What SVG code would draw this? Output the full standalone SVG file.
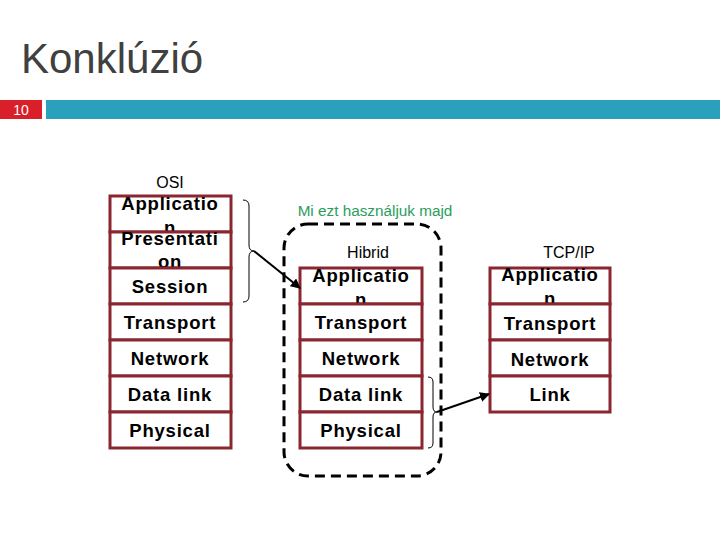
<svg xmlns="http://www.w3.org/2000/svg" width="720" height="540" viewBox="0 0 720 540">
<style>
.box{fill:#fff;stroke:#8a2630;stroke-width:3}
.t{font-family:"Liberation Sans",Arial,sans-serif;font-weight:bold;font-size:18.5px;letter-spacing:0.8px;fill:#000;text-anchor:middle}
.h{font-family:"Liberation Sans",Arial,sans-serif;font-size:16px;fill:#000;text-anchor:middle}
.ln{fill:none;stroke:#000;stroke-width:1}
.ar{fill:none;stroke:#000;stroke-width:2}
</style>
<defs>
<marker id="ah" viewBox="0 0 10 10" refX="9" refY="5" markerWidth="5" markerHeight="5" orient="auto">
<path d="M0,0 L10,5 L0,10 z" fill="#000"/>
</marker>
</defs>
<rect width="720" height="540" fill="#fff"/>
<text x="21" y="73" font-family="'Liberation Sans',Arial,sans-serif" font-size="42" fill="#404040">Konklúzió</text>
<rect x="0" y="100" width="42" height="19" fill="#d9202a"/>
<text x="21" y="115" font-family="'Liberation Sans',Arial,sans-serif" font-size="14" fill="#fff" text-anchor="middle">10</text>
<rect x="46" y="100" width="674" height="19" fill="#2aa0bc"/>

<g id="osi">
<text class="h" x="170" y="188">OSI</text>
<rect class="box" x="110" y="196" width="121" height="36"/>
<text class="t" x="170" y="210">Applicatio</text>
<text class="t" x="170" y="234">n</text>
<rect class="box" x="110" y="232" width="121" height="36"/>
<text class="t" x="170" y="245">Presentati</text>
<text class="t" x="170" y="268">on</text>
<rect class="box" x="110" y="268" width="121" height="36"/>
<text class="t" x="170" y="293">Session</text>
<rect class="box" x="110" y="304" width="121" height="36"/>
<text class="t" x="170" y="329">Transport</text>
<rect class="box" x="110" y="340" width="121" height="36"/>
<text class="t" x="170" y="365">Network</text>
<rect class="box" x="110" y="376" width="121" height="36"/>
<text class="t" x="170" y="401">Data link</text>
<rect class="box" x="110" y="412" width="121" height="36"/>
<text class="t" x="170" y="437">Physical</text>
</g>

<g id="hibrid">
<text x="375" y="216" font-family="'Liberation Sans',Arial,sans-serif" font-size="15.3" fill="#2a9d5c" text-anchor="middle">Mi ezt használjuk majd</text>
<rect x="284" y="224" width="157" height="252" rx="24" ry="24" fill="none" stroke="#000" stroke-width="3" stroke-dasharray="10,6"/>
<text class="h" x="368" y="258">Hibrid</text>
<rect class="box" x="300" y="268" width="122" height="36"/>
<text class="t" x="361" y="282">Applicatio</text>
<text class="t" x="361" y="306">n</text>
<rect class="box" x="300" y="304" width="122" height="36"/>
<text class="t" x="361" y="329">Transport</text>
<rect class="box" x="300" y="340" width="122" height="36"/>
<text class="t" x="361" y="365">Network</text>
<rect class="box" x="300" y="376" width="122" height="36"/>
<text class="t" x="361" y="401">Data link</text>
<rect class="box" x="300" y="412" width="122" height="36"/>
<text class="t" x="361" y="437">Physical</text>
</g>

<g id="tcpip">
<text class="h" x="569" y="258">TCP/IP</text>
<rect class="box" x="490" y="268" width="120" height="36"/>
<text class="t" x="550" y="281">Applicatio</text>
<text class="t" x="550" y="305">n</text>
<rect class="box" x="490" y="304" width="120" height="36"/>
<text class="t" x="550" y="330">Transport</text>
<rect class="box" x="490" y="340" width="120" height="36"/>
<text class="t" x="550" y="366">Network</text>
<rect class="box" x="490" y="376" width="120" height="36"/>
<text class="t" x="550" y="401">Link</text>
</g>

<g id="connectors">
<path class="ln" d="M243,200 Q249,200 249,206 L249,245 Q249,251 254,251 Q249,251 249,257 L249,296 Q249,302 243,302"/>
<line class="ar" x1="254" y1="251" x2="300" y2="288" marker-end="url(#ah)"/>
<path class="ln" d="M428,377 Q433,377 433,382 L433,407 Q433,412 437,412 Q433,412 433,417 L433,443 Q433,448 428,448"/>
<line class="ar" x1="437" y1="412" x2="489" y2="394" marker-end="url(#ah)"/>
</g>
</svg>
